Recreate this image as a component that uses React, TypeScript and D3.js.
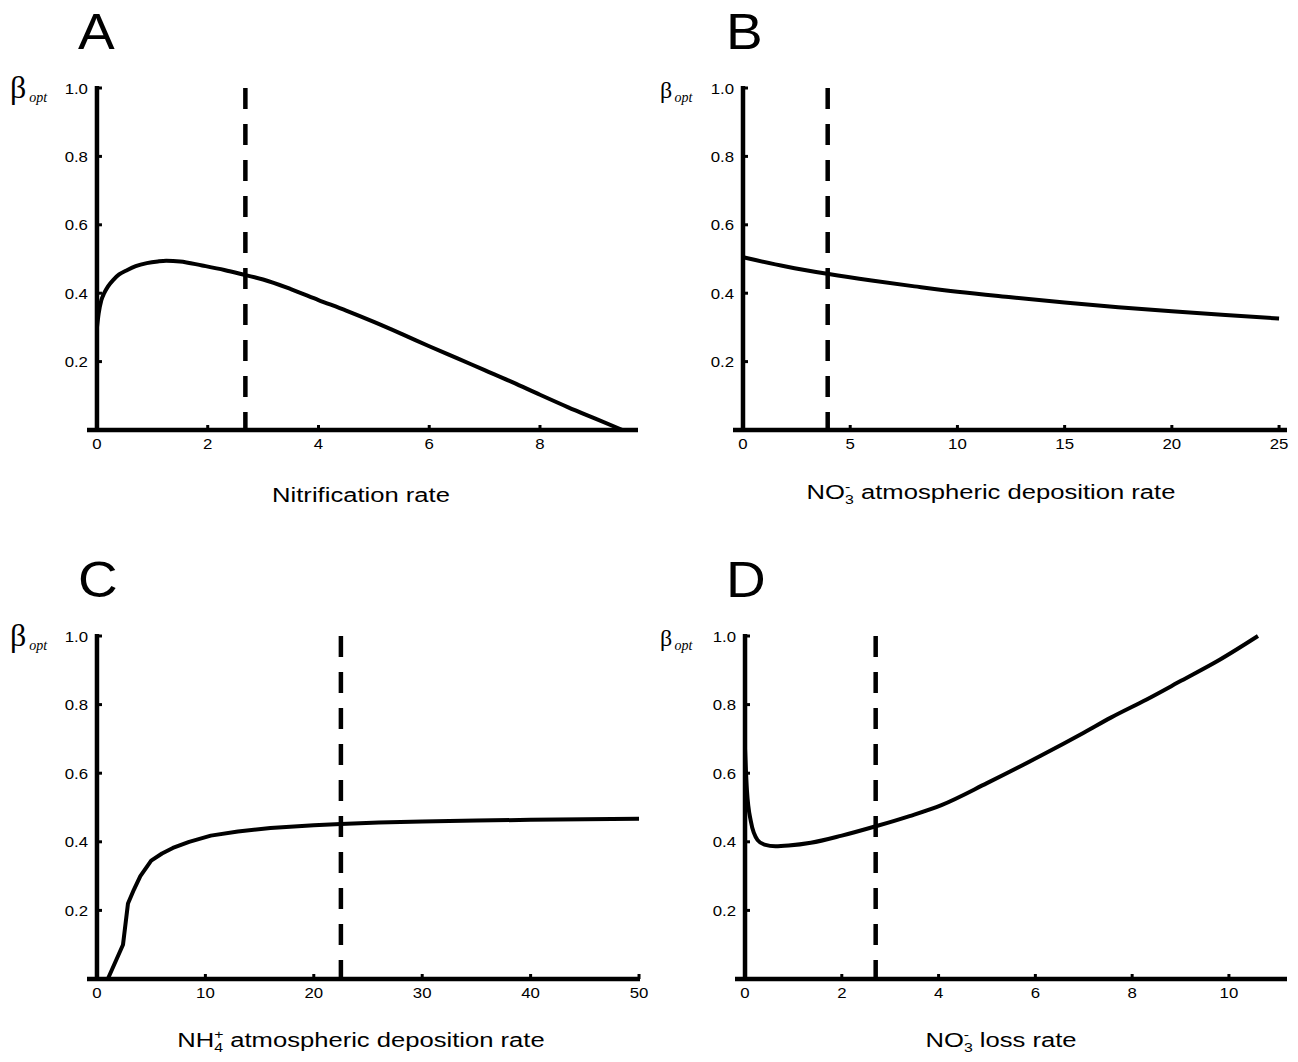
import React from 'react';
import * as d3 from 'd3';

// Panel A: Nitrification rate
const aX = [0, 0.03, 0.08, 0.13, 0.2, 0.3, 0.4, 0.55, 0.7, 0.9, 1.1, 1.25, 1.5, 1.9, 2.3, 2.68, 3.0, 3.5, 4.0, 4.5, 5.0, 5.5, 6.0, 6.5, 7.0, 7.5, 8.0, 8.5, 9.0, 9.49];
const aY = [0.30, 0.34, 0.38, 0.40, 0.42, 0.44, 0.455, 0.468, 0.479, 0.488, 0.493, 0.495, 0.493, 0.481, 0.468, 0.453, 0.44, 0.412, 0.38, 0.349, 0.316, 0.281, 0.245, 0.21, 0.175, 0.14, 0.103, 0.067, 0.033, 0.0];
// Panel B: NO3- atmospheric deposition rate
const bX = [0, 2, 4, 6, 8, 10, 12.5, 15, 17.5, 20, 22.5, 25];
const bY = [0.505, 0.478, 0.456, 0.437, 0.42, 0.404, 0.388, 0.373, 0.359, 0.347, 0.336, 0.326];
// Panel C: NH4+ atmospheric deposition rate
const cX = [1.0, 2.4, 2.86, 3.4, 4.0, 5.0, 6.0, 7.0, 8.5, 10.5, 13, 16, 20, 22.5, 26, 30, 35, 40, 45, 50];
const cY = [0.0, 0.10, 0.22, 0.26, 0.30, 0.345, 0.366, 0.382, 0.40, 0.418, 0.43, 0.44, 0.448, 0.452, 0.456, 0.459, 0.462, 0.464, 0.466, 0.467];
// Panel D: NO3- loss rate
const dX = [0, 0.04, 0.12, 0.26, 0.4, 0.63, 0.9, 1.36, 2.0, 2.72, 3.4, 4.06, 5.0, 6.1, 7.0, 7.56, 8.3, 9.02, 9.8, 10.6];
const dY = [0.67, 0.55, 0.46, 0.405, 0.392, 0.387, 0.389, 0.397, 0.418, 0.446, 0.475, 0.507, 0.571, 0.65, 0.718, 0.762, 0.815, 0.87, 0.93, 1.0];

const aXTicks = [0, 2, 4, 6, 8];
const bXTicks = [0, 5, 10, 15, 20, 25];
const cXTicks = [0, 10, 20, 30, 40, 50];
const dXTicks = [0, 2, 4, 6, 8, 10];
const yTicks = [0.2, 0.4, 0.6, 0.8, 1.0];

const aRef = 2.68;
const bRef = 3.95;
const cRef = 22.5;
const dRef = 2.7;

const SANS = '"Liberation Sans", Arial, sans-serif';
const SERIF = '"Liberation Serif", "Times New Roman", serif';

type PanelProps = {
  xs: number[];
  ys: number[];
  xDomain: [number, number];
  xRange: [number, number];
  yRange: [number, number];
  xTicks: number[];
  refX: number;
  smooth: boolean;
  letter: string;
  letterX: number;
  betaX: number;
  betaSize: number;
  title: React.ReactNode;
  titleX: number;
  titleY: number;
};

function Panel(p: PanelProps) {
  const x = d3.scaleLinear().domain(p.xDomain).range(p.xRange);
  const y = d3.scaleLinear().domain([0, 1]).range(p.yRange);
  const x0 = x(0);
  const y0 = y(0);
  const yTop = y(1);
  const pts: [number, number][] = p.xs.map((v, i) => [v, p.ys[i]]);
  const line = d3
    .line<[number, number]>()
    .x((d) => x(d[0]))
    .y((d) => y(d[1]))
    .curve(p.smooth ? d3.curveMonotoneX : d3.curveLinear);
  return (
    <g>
      <g transform={`translate(${p.letterX},${yTop - 39}) scale(1.1,1)`}>
        <text x={0} y={0} fontFamily={SANS} fontSize={50}>{p.letter}</text>
      </g>
      <text x={p.betaX} y={yTop + 10} fontFamily={SERIF} fontSize={p.betaSize}>β</text>
      <text x={p.betaX + p.betaSize * 0.6} y={yTop + 14} fontFamily={SERIF} fontStyle="italic" fontSize={14}>opt</text>
      <path d={line(pts) || ''} fill="none" stroke="#000" strokeWidth={4} strokeLinejoin="round" />
      <line x1={x(p.refX)} x2={x(p.refX)} y1={yTop} y2={y0} stroke="#000" strokeWidth={4.5} strokeDasharray="21 15" />
      <line x1={x0} x2={x0} y1={yTop - 2} y2={y0 + 2} stroke="#000" strokeWidth={4.5} />
      <line x1={p.xRange[0]} x2={p.xRange[1]} y1={y0} y2={y0} stroke="#000" strokeWidth={4.5} />
      {yTicks.map((t) => (
        <g key={'y' + t}>
          <line x1={x0} x2={x0 + 5} y1={y(t)} y2={y(t)} stroke="#000" strokeWidth={3} />
          <g transform={`translate(${x0 - 9},${y(t) + 5.5}) scale(1.12,1)`}>
            <text x={0} y={0} textAnchor="end" fontFamily={SANS} fontSize={15}>{t.toFixed(1)}</text>
          </g>
        </g>
      ))}
      {p.xTicks.map((t) => (
        <g key={'x' + t}>
          <line x1={x(t)} x2={x(t)} y1={y0} y2={y0 - 5} stroke="#000" strokeWidth={3} />
          <g transform={`translate(${x(t)},${y0 + 19}) scale(1.12,1)`}>
            <text x={0} y={0} textAnchor="middle" fontFamily={SANS} fontSize={15}>{String(t)}</text>
          </g>
        </g>
      ))}
      <g transform={`translate(${p.titleX},${p.titleY}) scale(1.22,1)`}>
        <text x={0} y={0} textAnchor="middle" fontFamily={SANS} fontSize={21}>{p.title}</text>
      </g>
    </g>
  );
}

export default function App() {
  const no3 = (
    <>
      NO
      <tspan fontSize={13} dy={-8}>-</tspan>
      <tspan fontSize={13} dx={-4.3} dy={13}>3</tspan>
      <tspan dy={-5}>{' '}</tspan>
    </>
  );
  return (
    <svg
      width={1298}
      height={1062}
      style={{ position: 'absolute', left: 0, top: 0, background: '#fff' }}
    >
      <rect x={0} y={0} width={1298} height={1062} fill="#fff" />
      <Panel
        xs={aX} ys={aY} xDomain={[-0.18, 9.77]} xRange={[87, 638]} yRange={[430, 88]}
        xTicks={aXTicks} refX={aRef} smooth={true}
        letter="A" letterX={78} betaX={10} betaSize={32}
        title={<>Nitrification rate</>} titleX={361} titleY={502}
      />
      <Panel
        xs={bX} ys={bY} xDomain={[-0.466, 25.37]} xRange={[733, 1287]} yRange={[430, 88]}
        xTicks={bXTicks} refX={bRef} smooth={true}
        letter="B" letterX={726} betaX={660} betaSize={24}
        title={<>{no3}atmospheric deposition rate</>} titleX={991} titleY={499}
      />
      <Panel
        xs={cX} ys={cY} xDomain={[-0.92, 50.09]} xRange={[87, 640]} yRange={[979, 636]}
        xTicks={cXTicks} refX={cRef} smooth={false}
        letter="C" letterX={78} betaX={10} betaSize={32}
        title={
          <>
            NH
            <tspan fontSize={13} dy={-8}>+</tspan>
            <tspan fontSize={13} dx={-7.6} dy={13}>4</tspan>
            <tspan dy={-5}> atmospheric deposition rate</tspan>
          </>
        }
        titleX={361} titleY={1047}
      />
      <Panel
        xs={dX} ys={dY} xDomain={[-0.207, 11.2]} xRange={[735, 1287]} yRange={[979, 636]}
        xTicks={dXTicks} refX={dRef} smooth={true}
        letter="D" letterX={726} betaX={660} betaSize={24}
        title={<>{no3}loss rate</>} titleX={1001} titleY={1047}
      />
    </svg>
  );
}
